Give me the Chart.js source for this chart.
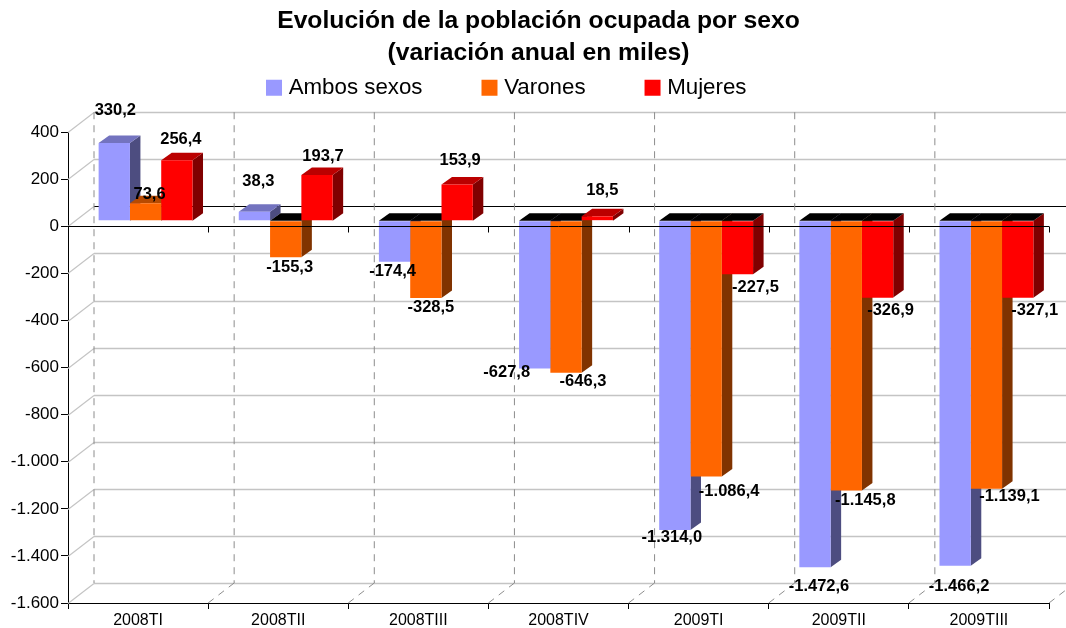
<!DOCTYPE html>
<html lang="es">
<head>
<meta charset="utf-8">
<title>Evolución de la población ocupada por sexo</title>
<style>html,body{margin:0;padding:0;background:#fff}canvas{display:block}</style>
<script src="https://cdn.jsdelivr.net/npm/chart.js@4/dist/chart.umd.min.js"></script>
</head>
<body>
<canvas id="c" width="1066" height="628"></canvas>
<script>
const categories = ['2008TI','2008TII','2008TIII','2008TIV','2009TI','2009TII','2009TIII'];
const ambosSexos = [330.2, 38.3, -174.4, -627.8, -1314.0, -1472.6, -1466.2];
const varones = [73.6, -155.3, -328.5, -646.3, -1086.4, -1145.8, -1139.1];
const mujeres = [256.4, 193.7, 153.9, 18.5, -227.5, -326.9, -327.1];
const titleLines = ['Evolución de la población ocupada por sexo','(variación anual en miles)'];

// Label nudges relative to each bar end, as placed in the original
const labelNudge = [
  [[1,-32],[4,-9],[4,-21]],
  [[4,-30],[4,10],[6,-19]],
  [[-2,10],[5,9],[3,-24]],
  [[-28,4],[17,9],[5,-26]],
  [[-3,7],[23,15],[18,13]],
  [[4,19],[19,10],[13,13]],
  [[4,21],[23,8],[17,13]]
];
const faces = [
  {front:'#9999ff', side:'#4d4d80', top:'#7373bf'},
  {front:'#ff6600', side:'#803300', top:'#b84a00'},
  {front:'#ff0000', side:'#800000', top:'#bb0000'}
];
const WALL = {x:26, y:-20};       // front plane to back wall
const PLANE = {x:7.5, y:-5.7};    // front plane to bar plane
const DEPTH = {x:10.5, y:-7.5};   // bar depth
const FONT = '"Liberation Sans", Arial, Helvetica, sans-serif';
const LEGEND_PAD = 63.5, LEGEND_TEXT_TOP = 76.5, LEGEND_H = 64;

function fmt(v, dec){
  const neg = v < 0;
  const s = Math.abs(v).toFixed(dec).split('.');
  const int = s[0].replace(/\B(?=(\d{3})+$)/g, '.');
  return (neg ? '-' : '') + int + (dec ? ',' + s[1] : '');
}

const scene = {
  id:'scene',
  beforeLayout(chart){
    const lg = chart.legend;
    if(lg && !lg._fitWrapped){
      const f = lg.fit;
      lg.fit = function(){ f.call(this); this.height = LEGEND_H; };
      lg._fitWrapped = true;
    }
  },
  afterLayout(chart){
    if(chart.legend){
      chart.legend.top = LEGEND_TEXT_TOP - LEGEND_PAD;
      chart.legend.left -= 32;
    }
    if(chart.titleBlock){
      chart.titleBlock.left = 11;
      chart.titleBlock.right = chart.width;
    }
  },
  beforeDatasetsDraw(chart){
    const {ctx, scales:{x, y}} = chart;
    const right = chart.width;
    ctx.save();
    // back wall grid and left wall diagonals
    y.ticks.forEach(t=>{
      const py = Math.round(y.getPixelForValue(t.value)) + .5;
      const by = py + WALL.y;
      ctx.lineWidth = t.value === 0 ? 1 : 1.5;
      ctx.strokeStyle = t.value === 0 ? '#000' : '#c4c4c4';
      ctx.beginPath(); ctx.moveTo(x.left + WALL.x, by); ctx.lineTo(right, by); ctx.stroke();
      ctx.lineWidth = 1.2;
      ctx.strokeStyle = '#c4c4c4';
      ctx.beginPath(); ctx.moveTo(x.left, py); ctx.lineTo(x.left + WALL.x, by); ctx.stroke();
    });
    // dashed category separators on back wall and floor
    ctx.lineWidth = 1;
    ctx.strokeStyle = '#8c8c8c';
    ctx.setLineDash([7,6]);
    const n = categories.length;
    const top = y.getPixelForValue(y.max) + WALL.y, bot = y.getPixelForValue(y.min);
    for(let i=0;i<=n;i++){
      const px = x.left + (x.right - x.left) * i / n;
      ctx.beginPath(); ctx.moveTo(px + WALL.x, top); ctx.lineTo(px + WALL.x, bot + WALL.y); ctx.stroke();
      if(i>0){ ctx.beginPath(); ctx.moveTo(px, bot); ctx.lineTo(px + WALL.x, bot + WALL.y); ctx.stroke(); }
    }
    ctx.restore();
    // bars are drawn on a plane between the front axes and the back wall
    ctx.save();
    ctx.translate(PLANE.x, PLANE.y);
    for(let c=0;c<n;c++){
      chart.data.datasets.forEach((ds,d)=>{
        const el = chart.getDatasetMeta(d).data[c];
        const half = el.width/2, l = el.x-half, r = el.x+half;
        const zero = y.getPixelForValue(0), topY = Math.min(el.y, zero), botY = Math.max(el.y, zero);
        ctx.fillStyle = faces[d].side;
        ctx.beginPath(); ctx.moveTo(r,topY); ctx.lineTo(r+DEPTH.x,topY+DEPTH.y); ctx.lineTo(r+DEPTH.x,botY+DEPTH.y); ctx.lineTo(r,botY); ctx.closePath(); ctx.fill();
        ctx.fillStyle = ds.data[c] < 0 ? '#000' : faces[d].top;
        ctx.beginPath(); ctx.moveTo(l,topY); ctx.lineTo(l+DEPTH.x,topY+DEPTH.y); ctx.lineTo(r+DEPTH.x,topY+DEPTH.y); ctx.lineTo(r,topY); ctx.closePath(); ctx.fill();
      });
    }
  },
  afterDatasetsDraw(chart){
    const {ctx, scales:{x, y}} = chart;
    ctx.restore();
    ctx.save();
    // zero axis over the bars
    const zy = Math.round(y.getPixelForValue(0)) + .5, n = categories.length;
    ctx.strokeStyle = '#000'; ctx.lineWidth = 1;
    ctx.beginPath(); ctx.moveTo(x.left, zy); ctx.lineTo(x.right, zy);
    for(let i=1;i<=n;i++){
      const px = Math.round(x.left + (x.right - x.left) * i / n) + .5;
      ctx.moveTo(px, zy); ctx.lineTo(px, zy + 6);
    }
    ctx.stroke();
    // value labels
    ctx.fillStyle = '#000';
    ctx.font = 'bold 16.5px ' + FONT;
    ctx.textAlign = 'center'; ctx.textBaseline = 'middle';
    chart.data.datasets.forEach((ds,d)=>{
      chart.getDatasetMeta(d).data.forEach((el,c)=>{
        const [ox,oy] = labelNudge[c][d];
        ctx.fillText(fmt(ds.data[c],1), el.x + PLANE.x + ox, el.y + PLANE.y + oy);
      });
    });
    ctx.restore();
  }
};

new Chart(document.getElementById('c'), {
  type:'bar',
  data:{
    labels:categories,
    datasets:[
      {label:'Ambos sexos', data:ambosSexos, backgroundColor:faces[0].front},
      {label:'Varones', data:varones, backgroundColor:faces[1].front},
      {label:'Mujeres', data:mujeres, backgroundColor:faces[2].front}
    ]
  },
  options:{
    responsive:false,
    animation:false,
    events:[],
    font:{family:FONT},
    layout:{padding:{left:0,top:0,right:17,bottom:0}},
    datasets:{bar:{barPercentage:1, categoryPercentage:0.67, clip:false, borderWidth:0}},
    plugins:{
      tooltip:{enabled:false},
      title:{display:true, text:titleLines, color:'#000', padding:{top:5,bottom:-1},
        font:{family:FONT, size:24.7, weight:'bold', lineHeight:1.3}},
      legend:{display:true, position:'top',
        labels:{color:'#000', padding:LEGEND_PAD, boxWidth:7, boxHeight:7,
          font:{family:FONT, size:22.3},
          generateLabels(chart){
            return Chart.defaults.plugins.legend.labels.generateLabels(chart).map(it=>{
              it.strokeStyle = it.fillStyle; it.lineWidth = 9; it.lineJoin='miter'; return it;
            });
          }
        }
      }
    },
    scales:{
      x:{
        afterFit(s){ s.height = 25; },
        grid:{drawOnChartArea:false, color:'#000', tickLength:6},
        border:{color:'#000'},
        ticks:{color:'#000', padding:2, maxRotation:0, font:{family:FONT, size:16}}
      },
      y:{
        min:-1600, max:400,
        afterFit(s){ s.width = 68; },
        grid:{drawOnChartArea:false, color:'#000', tickLength:7},
        border:{color:'#000'},
        ticks:{stepSize:200, color:'#000', padding:2, font:{family:FONT, size:17},
          callback:v=>fmt(v,0)}
      }
    }
  },
  plugins:[scene]
});
</script>
</body>
</html>
